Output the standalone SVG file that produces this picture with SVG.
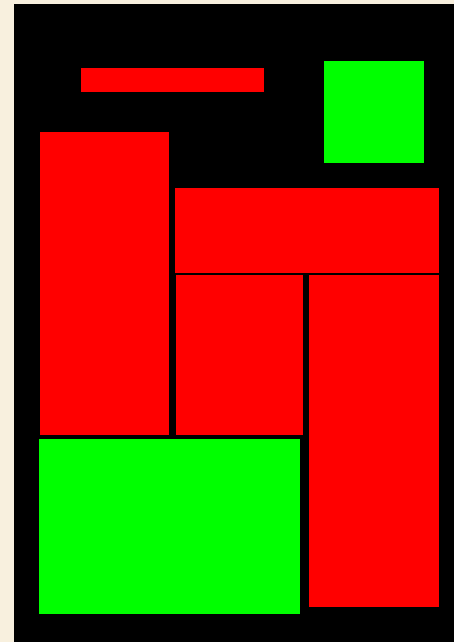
<svg xmlns="http://www.w3.org/2000/svg" width="454" height="642" viewBox="0 0 454 642">
<style>.r{fill:#ff0000}.g{fill:#00ff00}</style>
<rect x="0" y="0" width="454" height="642" fill="#f8f0de"/>
<rect x="14" y="4" width="440" height="638" fill="#000000"/>
<rect class="r" x="81" y="68" width="183" height="24"/>
<rect class="g" x="324" y="61" width="100" height="102"/>
<rect class="r" x="40" y="132" width="129" height="303"/>
<rect class="r" x="175" y="188" width="264" height="85"/>
<rect class="r" x="176" y="275" width="127" height="160"/>
<rect class="r" x="309" y="275" width="130" height="332"/>
<rect class="g" x="39" y="439" width="261" height="175"/>
</svg>
